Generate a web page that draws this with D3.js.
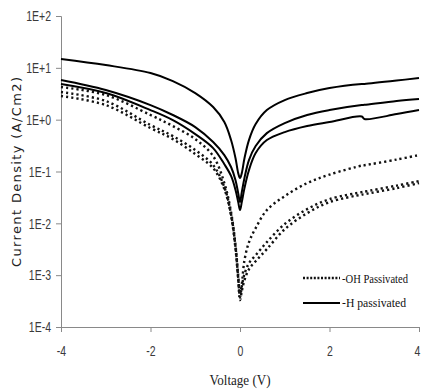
<!DOCTYPE html>
<html>
<head>
<meta charset="utf-8">
<script src="https://cdn.jsdelivr.net/npm/d3@7"></script>
<style>
  body { margin: 0; background: #fff; }
  .tickLabel { font-family: "Liberation Sans", Arial, sans-serif; font-size: 15px; fill: #3a3a3a; }
  .axisTitle { font-family: "Liberation Serif", serif; font-size: 15px; fill: #222; }
  .legendText { font-family: "Liberation Serif", serif; font-size: 12.5px; fill: #111; }
</style>
</head>
<body>
<script>
// shared voltage points (V)
const voltage = [-4, -3, -2, -1.5, -1, -0.6, -0.35, -0.2, -0.1, -0.04, 0, 0.04, 0.1, 0.2, 0.35, 0.6, 1, 1.5, 2, 2.72, 2.78, 3.5, 4];

// -H passivated (solid), A/cm2
const hPass1 = [14.8, 11.3, 7.94, 5.56, 3.26, 1.75, 0.9, 0.404, 0.18, 0.093, 0.0746, 0.093, 0.18, 0.404, 0.822, 1.53, 2.39, 3.26, 4.07, 4.87, 4.9, 5.68, 6.36];
const hPass2 = [5.81, 3.73, 1.91, 1.23, 0.72, 0.37, 0.207, 0.122, 0.068, 0.038, 0.0257, 0.04, 0.075, 0.166, 0.31, 0.55, 0.86, 1.23, 1.53, 1.91, 1.93, 2.29, 2.5];
const hPass3 = [4.87, 3.26, 1.53, 0.98, 0.527, 0.283, 0.138, 0.082, 0.044, 0.0257, 0.018, 0.0257, 0.0478, 0.106, 0.227, 0.404, 0.576, 0.752, 0.9, 1.15, 1.03, 1.28, 1.53];

// -OH passivated (dotted), A/cm2
const ohPass1 = [4.26, 2.99, 1.23, 0.752, 0.422, 0.198, 0.06, 0.0165, 0.0038, 0.001, 0.00043, 0.00067, 0.00195, 0.0043, 0.0081, 0.018, 0.0335, 0.0597, 0.0871, 0.13, 0.132, 0.17, 0.207];
const ohPass2 = [3.41, 2.29, 0.787, 0.482, 0.259, 0.133, 0.05, 0.015, 0.0035, 0.00088, 0.00038, 0.00061, 0.00105, 0.0017, 0.00243, 0.00434, 0.0097, 0.0188, 0.0293, 0.04, 0.0409, 0.0534, 0.0653];
const ohPass3 = [2.86, 1.91, 0.688, 0.422, 0.217, 0.116, 0.046, 0.0138, 0.0032, 0.0008, 0.00033, 0.00049, 0.0008, 0.0013, 0.00186, 0.00318, 0.0077, 0.0157, 0.0257, 0.0358, 0.0366, 0.0478, 0.0597];

const xTicks = [-4, -2, 0, 2, 4];
const yTicks = [1e2, 1e1, 1e0, 1e-1, 1e-2, 1e-3, 1e-4];
const yTickLabels = ["1E+2", "1E+1", "1E+0", "1E-1", "1E-2", "1E-3", "1E-4"];

const width = 422, height = 389;
const plotLeft = 61, plotRight = 419, plotTop = 16, plotBottom = 327;

const svg = d3.select("body").append("svg")
    .attr("width", width)
    .attr("height", height);

let x = d3.scaleLinear().domain([-4, 4]).range([plotLeft, plotRight]);
let y = d3.scaleLog().domain([1e-4, 1e2]).range([plotBottom, plotTop]);

// squeeze tick labels to look like the narrow font of the original
function narrow(sel) {
    sel.each(function() {
        const w = this.getComputedTextLength();
        d3.select(this).attr("textLength", w * 0.7).attr("lengthAdjust", "spacingAndGlyphs");
    });
}

// y axis
const yAxis = svg.append("g")
    .attr("transform", "translate(" + plotLeft + ",0)")
    .call(d3.axisLeft(y).tickValues(yTicks).tickSize(5).tickFormat((d, i) => yTickLabels[i]));
yAxis.selectAll("line, path").attr("stroke", "#898989");
yAxis.selectAll("text").attr("class", "tickLabel").attr("x", -10).call(narrow);

// x axis
const xAxis = svg.append("g")
    .attr("transform", "translate(0," + plotBottom + ")")
    .call(d3.axisBottom(x).tickValues(xTicks).tickSize(5).tickSizeOuter(0).tickFormat(d => String(d)));
xAxis.selectAll("line, path").attr("stroke", "#898989");
xAxis.selectAll("text").attr("class", "tickLabel").attr("y", 18).call(narrow);
// last label sits on the window edge, pull it in a little
xAxis.selectAll("text").filter(d => d === 4).attr("dx", -2);

// axis titles
svg.append("text")
    .attr("class", "axisTitle")
    .attr("x", 240)
    .attr("y", 385)
    .attr("text-anchor", "middle")
    .attr("textLength", 61)
    .attr("lengthAdjust", "spacingAndGlyphs")
    .text("Voltage (V)");

svg.append("text")
    .attr("transform", "translate(21,172) rotate(-90)")
    .attr("text-anchor", "middle")
    .attr("textLength", 190)
    .style("font-family", "'DejaVu Sans', sans-serif")
    .style("font-size", "13px")
    .style("fill", "#222")
    .text("Current Density (A/Cm2)");

const line = d3.line()
    .x((d, i) => x(voltage[i]))
    .y(d => y(d))
    .curve(d3.curveCatmullRom.alpha(0.5));

const plot = svg.append("g");

// dotted first, solid on top
[ohPass1, ohPass2, ohPass3].forEach(s => {
    plot.append("path")
        .attr("d", line(s))
        .attr("fill", "none")
        .attr("stroke", "#111")
        .attr("stroke-width", 2.4)
        .attr("stroke-dasharray", "2.2,3");
});

[hPass1, hPass2, hPass3].forEach(s => {
    plot.append("path")
        .attr("d", line(s))
        .attr("fill", "none")
        .attr("stroke", "#000")
        .attr("stroke-width", 2);
});

// legend
const legend = svg.append("g");
legend.append("line")
    .attr("x1", 303).attr("x2", 340).attr("y1", 278).attr("y2", 278)
    .attr("stroke", "#111").attr("stroke-width", 2.4).attr("stroke-dasharray", "2,1.6");
legend.append("text").attr("class", "legendText")
    .attr("x", 342).attr("y", 283)
    .attr("textLength", 66).attr("lengthAdjust", "spacingAndGlyphs")
    .text("-OH Passivated");
legend.append("line")
    .attr("x1", 303).attr("x2", 340).attr("y1", 303).attr("y2", 303)
    .attr("stroke", "#000").attr("stroke-width", 2);
legend.append("text").attr("class", "legendText")
    .attr("x", 342).attr("y", 307)
    .attr("textLength", 64).attr("lengthAdjust", "spacingAndGlyphs")
    .text("-H passivated");
</script>
</body>
</html>
